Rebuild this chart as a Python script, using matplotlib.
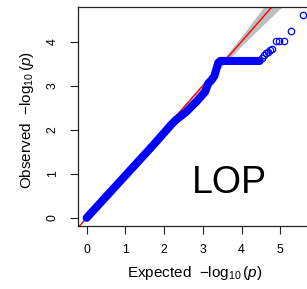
import matplotlib
matplotlib.use("Agg")
import matplotlib.pyplot as plt
import numpy as np

plt.rcParams['font.family'] = ['Liberation Sans', 'DejaVu Sans']
plt.rcParams['mathtext.fontset'] = 'custom'
plt.rcParams['mathtext.rm'] = 'Liberation Sans'
plt.rcParams['mathtext.it'] = 'Liberation Sans:italic'
plt.rcParams['mathtext.sf'] = 'Liberation Sans'

# Dense part of the QQ curve (expected, observed)
dense_expected = [0.0, 0.25, 0.5, 0.75, 1.0, 1.25, 1.5, 1.75, 2.0, 2.2, 2.33, 2.45,
                  2.58, 2.7, 2.84, 2.95, 3.06, 3.14, 3.22, 3.30, 3.36, 3.40, 3.45,
                  3.6, 3.8, 4.0, 4.2, 4.4, 4.47]
dense_observed = [0.0, 0.24, 0.48, 0.72, 0.96, 1.2, 1.44, 1.68, 1.93, 2.13, 2.24, 2.32,
                  2.41, 2.52, 2.64, 2.75, 2.86, 3.05, 3.12, 3.22, 3.40, 3.52, 3.56,
                  3.56, 3.56, 3.56, 3.56, 3.56, 3.56]

# Sparse top points
top_expected = [4.52, 4.58, 4.63, 4.68, 4.74, 4.80, 4.88, 4.98, 5.10, 5.28, 5.58]
top_observed = [3.62, 3.70, 3.74, 3.77, 3.81, 3.83, 4.02, 4.02, 4.02, 4.24, 4.61]

# Confidence band
band_expected = [2.5, 3.0, 3.5, 4.0, 4.5, 5.0, 5.5, 5.9]
band_lower = [2.47, 2.96, 3.44, 3.90, 4.33, 4.75, 5.12, 5.40]
band_upper = [2.53, 3.05, 3.57, 4.12, 4.70, 5.30, 5.90, 6.40]

xticks = [0, 1, 2, 3, 4, 5]
yticks = [0, 1, 2, 3, 4]
label_text = "LOP"

fig = plt.figure(figsize=(3.07, 2.89), dpi=100)
ax = fig.add_axes([0.254, 0.218, 1.0137 - 0.254, 0.9758 - 0.218])
ax.set_xlim(-0.223, 5.80)
ax.set_ylim(-0.184, 4.784)

ax.fill_between(band_expected, band_lower, band_upper, color='#BEBEBE', lw=0, zorder=1)
ax.plot([-1, 7], [-1, 7], color='red', lw=1.0, zorder=2)

ax.plot(dense_expected, dense_observed, color='#0000FF', lw=5.8,
        solid_capstyle='round', solid_joinstyle='round', zorder=3)
ax.plot(top_expected, top_observed, linestyle='none', marker='o', ms=4.6,
        mfc='none', mec='#0000FF', mew=0.9, zorder=4)

ax.text(3.70, 0.80, label_text, fontsize=27, ha='center', va='center', color='black')

for s in ax.spines.values():
    s.set_linewidth(0.9)
    s.set_color('#222222')

ax.set_xticks(xticks)
ax.set_yticks(yticks)
ax.set_xticklabels([str(t) for t in xticks], fontsize=8.8)
ax.set_yticklabels([str(t) for t in yticks], fontsize=8.8, rotation=90, va='center')
ax.tick_params(axis='both', direction='out', length=5.8, width=0.8, color='#222222')
ax.tick_params(axis='x', pad=7)
ax.tick_params(axis='y', pad=8)

fig.text(195 / 307, 1 - 273 / 289, r'Expected  $-\log_{10}(p)$', fontsize=11,
         ha='center', va='center')
fig.text(27 / 307, 1 - 120 / 289, r'Observed  $-\log_{10}(p)$', fontsize=11,
         ha='center', va='center', rotation=90)

fig.savefig('out.png', dpi=100)
